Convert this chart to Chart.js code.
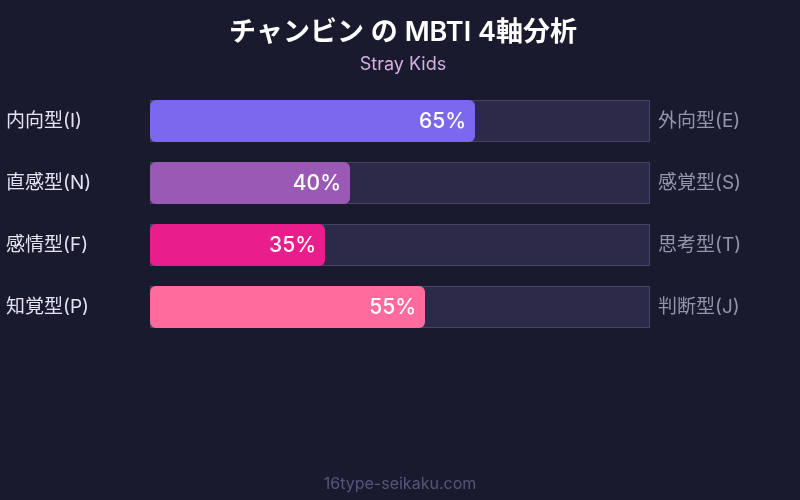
<!DOCTYPE html>
<html>
<head>
<meta charset="utf-8">
<script src="https://cdn.jsdelivr.net/npm/chart.js@4/dist/chart.umd.min.js"></script>
<style>
html,body{margin:0;padding:0;background:#1a1a2e;}
#wrap{width:800px;height:500px;}
</style>
</head>
<body>
<div id="wrap"><canvas id="c" width="800" height="500"></canvas></div>
<script>
const leftLabels = ['内向型(I)', '直感型(N)', '感情型(F)', '知覚型(P)'];
const rightLabels = ['外向型(E)', '感覚型(S)', '思考型(T)', '判断型(J)'];
const values = [65, 40, 35, 55];
const trackValues = [100, 100, 100, 100];
const barColors = ['#7b68ee', '#9b59b6', '#e91e8c', '#ff6b9d'];
const titleText = 'チャンビン の MBTI 4軸分析';
const subtitleText = 'Stray Kids';
const footerText = '16type-seikaku.com';

const FONT = "Inter, 'Noto Sans CJK JP', sans-serif";

const valueLabelPlugin = {
  id: 'valueLabels',
  afterDatasetsDraw(chart) {
    const ctx = chart.ctx;
    const meta = chart.getDatasetMeta(0);
    ctx.save();
    ctx.font = '500 21px ' + FONT;
    ctx.fillStyle = '#ffffff';
    ctx.textAlign = 'right';
    ctx.textBaseline = 'middle';
    meta.data.forEach((bar, i) => {
      ctx.fillText(values[i] + '%', bar.x - 9, bar.y + 1);
    });
    ctx.restore();
  }
};

const footerPlugin = {
  id: 'footer',
  afterDraw(chart) {
    const ctx = chart.ctx;
    ctx.save();
    ctx.font = '16px ' + FONT;
    ctx.fillStyle = '#56567a';
    ctx.textAlign = 'center';
    ctx.textBaseline = 'middle';
    ctx.fillText(footerText, chart.width / 2, 484);
    ctx.restore();
  }
};

const bgPlugin = {
  id: 'bg',
  beforeDraw(chart) {
    const ctx = chart.ctx;
    ctx.save();
    ctx.fillStyle = '#1a1a2e';
    ctx.fillRect(0, 0, chart.width, chart.height);
    ctx.restore();
  }
};

new Chart(document.getElementById('c'), {
  type: 'bar',
  data: {
    labels: leftLabels,
    datasets: [
      {
        data: values,
        backgroundColor: barColors,
        borderRadius: 6,
        borderSkipped: false,
        borderWidth: 0,
        order: 0,
        categoryPercentage: 1,
        barPercentage: 42 / 62
      },
      {
        data: trackValues,
        backgroundColor: '#2c2a48',
        borderColor: '#444266',
        borderWidth: 1,
        borderSkipped: false,
        borderRadius: 0,
        order: 1,
        categoryPercentage: 1,
        barPercentage: 42 / 62
      }
    ]
  },
  options: {
    responsive: false,
    animation: false,
    indexAxis: 'y',
    devicePixelRatio: 1,
    layout: { padding: { left: 6, right: 0, top: 0, bottom: 162 } },
    datasets: { bar: { grouped: false } },
    scales: {
      x: {
        min: 0, max: 100,
        display: false
      },
      y: {
        type: 'category',
        offset: true,
        position: 'left',
        grid: { display: false },
        border: { display: false },
        ticks: {
          crossAlign: 'far',
          color: '#e2e2f0',
          font: { family: FONT, size: 19 },
          padding: 0
        },
        afterFit(scale) { scale.width = 144; }
      },
      y2: {
        type: 'category',
        labels: rightLabels,
        offset: true,
        position: 'right',
        grid: { display: false },
        border: { display: false },
        ticks: {
          color: '#9494ac',
          font: { family: FONT, size: 19 },
          padding: 0
        },
        afterFit(scale) { scale.width = 150; }
      }
    },
    plugins: {
      legend: { display: false },
      tooltip: { enabled: false },
      title: {
        display: true,
        text: titleText,
        color: '#ffffff',
        font: { family: FONT, size: 27, weight: '600' },
        padding: { top: 17, bottom: 3 }
      },
      subtitle: {
        display: true,
        text: subtitleText,
        color: '#d4b0e0',
        font: { family: FONT, size: 18 },
        padding: { top: 1, bottom: 15 }
      }
    }
  },
  plugins: [bgPlugin, valueLabelPlugin, footerPlugin]
});
</script>
</body>
</html>
